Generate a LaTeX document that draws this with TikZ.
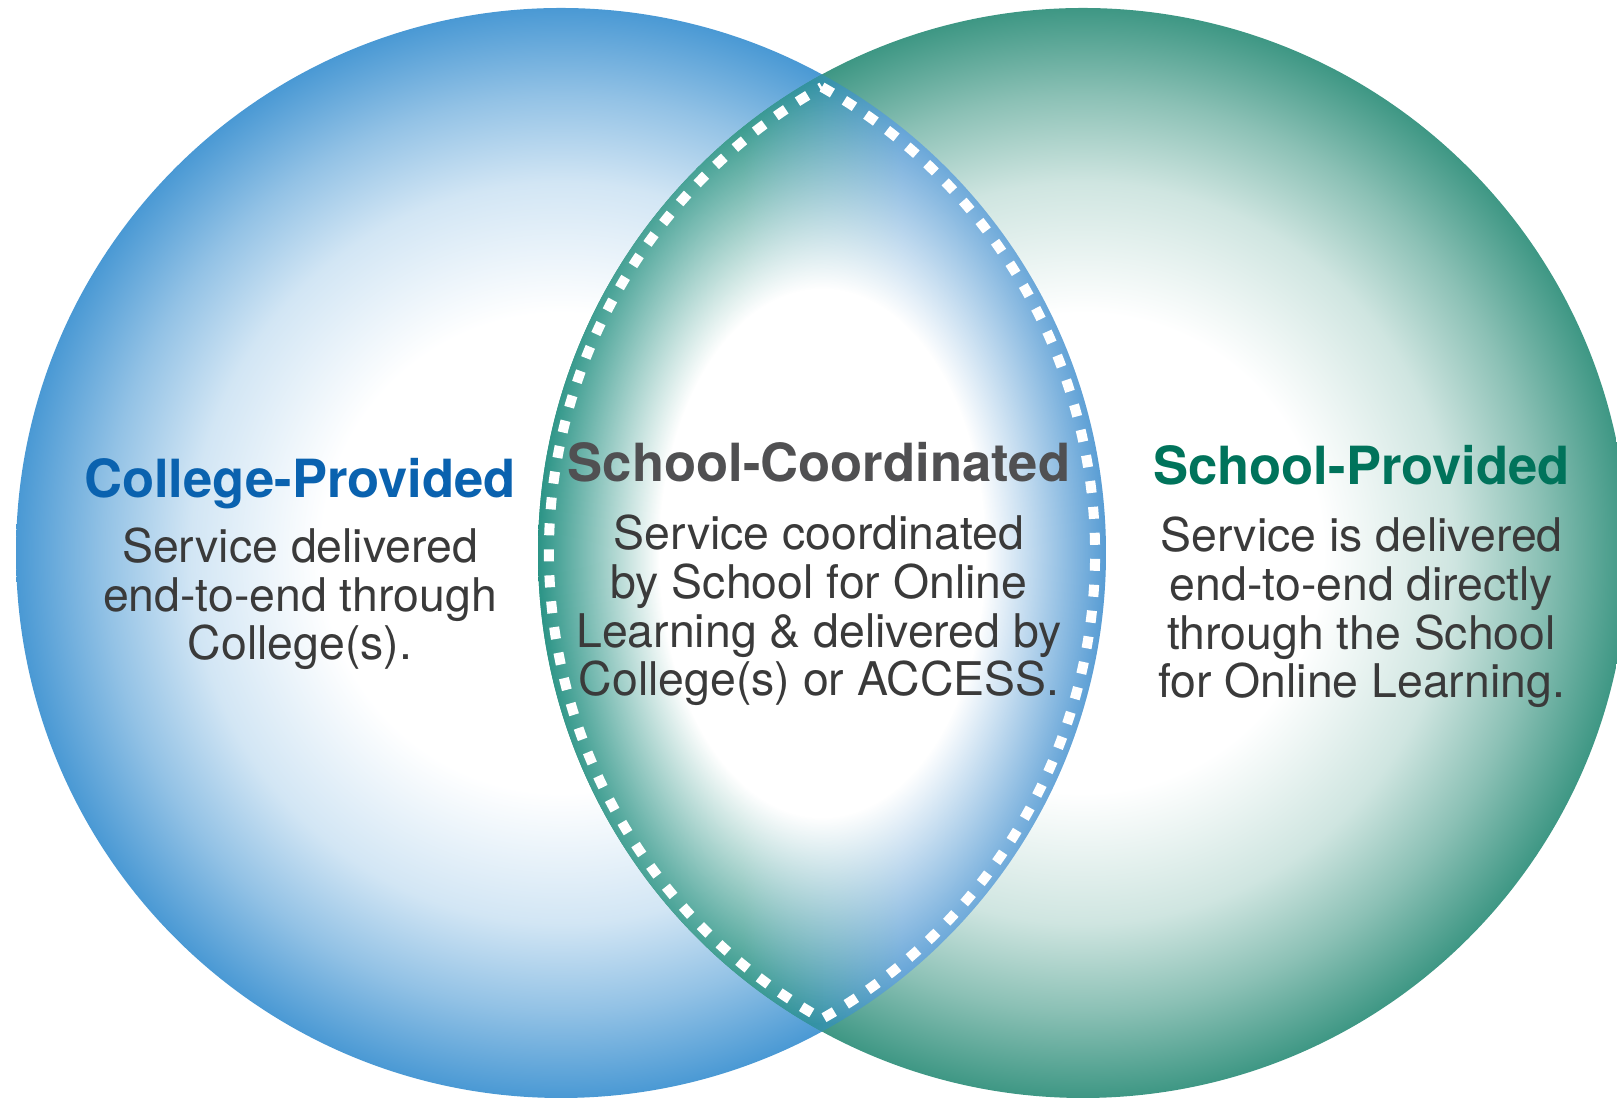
\documentclass[tikz,border=0pt]{standalone}
\usepackage{fontspec}
\setmainfont{TeX Gyre Heros}
\usetikzlibrary{fadings}

\definecolor{rimblue}{HTML}{4A99D4}
\definecolor{rimteal}{HTML}{3E9784}
\definecolor{lensteal}{HTML}{1F8E7F}
\definecolor{lensblue}{HTML}{4E97D2}
\definecolor{titleblue}{HTML}{0A62AF}
\definecolor{titlegreen}{HTML}{00735B}
\definecolor{titlegray}{HTML}{505052}
\definecolor{bodygray}{HTML}{3A3A3A}

\pgfdeclareradialshading{bluebubble}{\pgfpointorigin}{color(0bp)=(white); color(11bp)=(white); color(17bp)=(rimblue!25!white); color(21bp)=(rimblue!60!white); color(25bp)=(rimblue); color(50bp)=(rimblue)}
\pgfdeclareradialshading{tealbubble}{\pgfpointorigin}{color(0bp)=(white); color(11bp)=(white); color(17bp)=(rimteal!25!white); color(21bp)=(rimteal!60!white); color(25bp)=(rimteal); color(50bp)=(rimteal)}
\pgfdeclarehorizontalshading{lensside}{100bp}{color(0bp)=(lensteal); color(43bp)=(lensteal); color(57bp)=(lensblue); color(100bp)=(lensblue)}
\pgfdeclareradialshading{lensglowshade}{\pgfpointorigin}{color(0bp)=(white); color(14bp)=(white); color(25bp)=(black); color(50bp)=(black)}
\pgfdeclarefading{lensglow}{\pgfuseshading{lensglowshade}}

\begin{document}
\begin{tikzpicture}[x=0.5pt,y=0.5pt,
  headline/.style={font=\fontsize{26.3}{30}\selectfont\bfseries,inner sep=0pt,anchor=base},
  blurb/.style={font=\fontsize{23.2}{24.4}\selectfont,text=bodygray,align=center,inner sep=0pt,anchor=base},
  lensdash/.style={draw=white,line width=5pt,dash pattern=on 6pt off 7pt}]
  \useasboundingbox (0,0) rectangle (1617,1101);

  \coordinate (CL) at (561,548);
  \coordinate (CR) at (1083,548);

  \shade[shading=bluebubble] (CL) circle (545);
  \shade[shading=tealbubble] (CR) circle (545);

  \begin{scope}
    \clip (CL) circle (545);
    \clip (CR) circle (545);
    \shade[shading=lensside] (538,69) rectangle (1106,1027);
    \fill[white,path fading=lensglow] (822,548) ellipse [x radius=290,y radius=470];
  \end{scope}
  \draw[lensdash] (822,1013.9) arc[start angle=60.74,end angle=-60.74,radius=534]
    arc[start angle=240.74,end angle=119.26,radius=534] -- cycle;

  % base of a blurb is the baseline of its last line
  \node (CPT) at (300,603.3) [headline,text=titleblue] {College-Provided};
  \node (CPB) at (300,441) [blurb] {Service delivered\\end-to-end through\\College(s).};

  \node (SCT) at (819,619) [headline,text=titlegray] {School-Coordinated};
  \node (SCB) at (819,405) [blurb] {Service coordinated\\by School for Online\\Learning \& delivered by\\College(s) or ACCESS.};

  \node (SPT) at (1361.5,616) [headline,text=titlegreen] {School-Provided};
  \node (SPB) at (1361.5,403) [blurb] {Service is delivered\\end-to-end directly\\through the School\\for Online Learning.};

\end{tikzpicture}
\end{document}
